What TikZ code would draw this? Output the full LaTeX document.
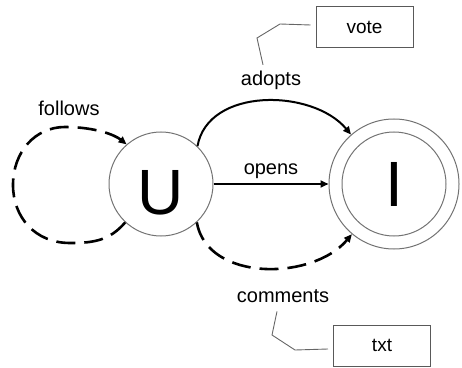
\documentclass[tikz,border=0pt]{standalone}
\usepackage{fontspec}
\setmainfont{Liberation Sans}
\usetikzlibrary{arrows.meta}
\begin{document}
\begin{tikzpicture}[x=1pt,y=1pt,
  state/.style={circle, draw=black!55, line width=1pt, minimum size=104pt,
    inner sep=0pt, font=\fontsize{64}{64}\selectfont},
  lbl/.style={font=\fontsize{20}{24}\selectfont, anchor=base, inner sep=2pt},
  tag/.style={draw=black!65, line width=1pt, minimum width=97pt,
    minimum height=41pt, inner sep=0pt, font=\fontsize{19}{22}\selectfont},
  tip/.style={-{Triangle[length=8pt,width=7pt]}},
  solidedge/.style={tip, line width=2pt},
  dashedge/.style={tip, line width=2.6pt, dash pattern=on 19pt off 9pt},
  callout/.style={draw=black!60, line width=0.9pt},
]
\useasboundingbox (0,0) rectangle (462,367);

% states
\node[state, text height=60pt, text depth=0pt] (U) at (161,183) {U};
\node[state, minimum size=130pt] (I) at (394,183) {};
\node[state] (Iin) at (I.center) {I};

% edge labels
\node[lbl] (follows)  at (69,251)  {follows};
\node[lbl] (adopts)   at (271,281) {adopts};
\node[lbl] (opens)    at (271,193) {opens};
\node[lbl] (comments) at (283,65)  {comments};

% attribute boxes
\node[tag] (vote) at (364.5,339.5) {vote};
\node[tag] (txt)  at (382,21.5)    {txt};

% transitions
\draw[solidedge] (U) -- (I);
\draw[solidedge] (U.46) to[out=80, in=130] (I.131);
\draw[dashedge] (U.313) to[out=-80, in=-130] (I.230);
\draw[dashedge] (U.227) .. controls (110,127) and (95,124) .. (70,124)
  .. controls (35,124) and (13,150) .. (13,182)
  .. controls (13,215) and (35,240) .. (65,240)
  .. controls (95,240) and (115,232) .. (U.131);

% callouts from labels to boxes
\draw[callout] ([shift={(-5pt,2.5pt)}]vote.west) -- (280,343) -- (257,329)
  -- ([shift={(-8pt,4.5pt)}]adopts.north);
\draw[callout] ([shift={(-5pt,-3.5pt)}]txt.west) -- (295,17) -- (272,32)
  -- ([shift={(-6pt,-7pt)}]comments.south);
\end{tikzpicture}
\end{document}
